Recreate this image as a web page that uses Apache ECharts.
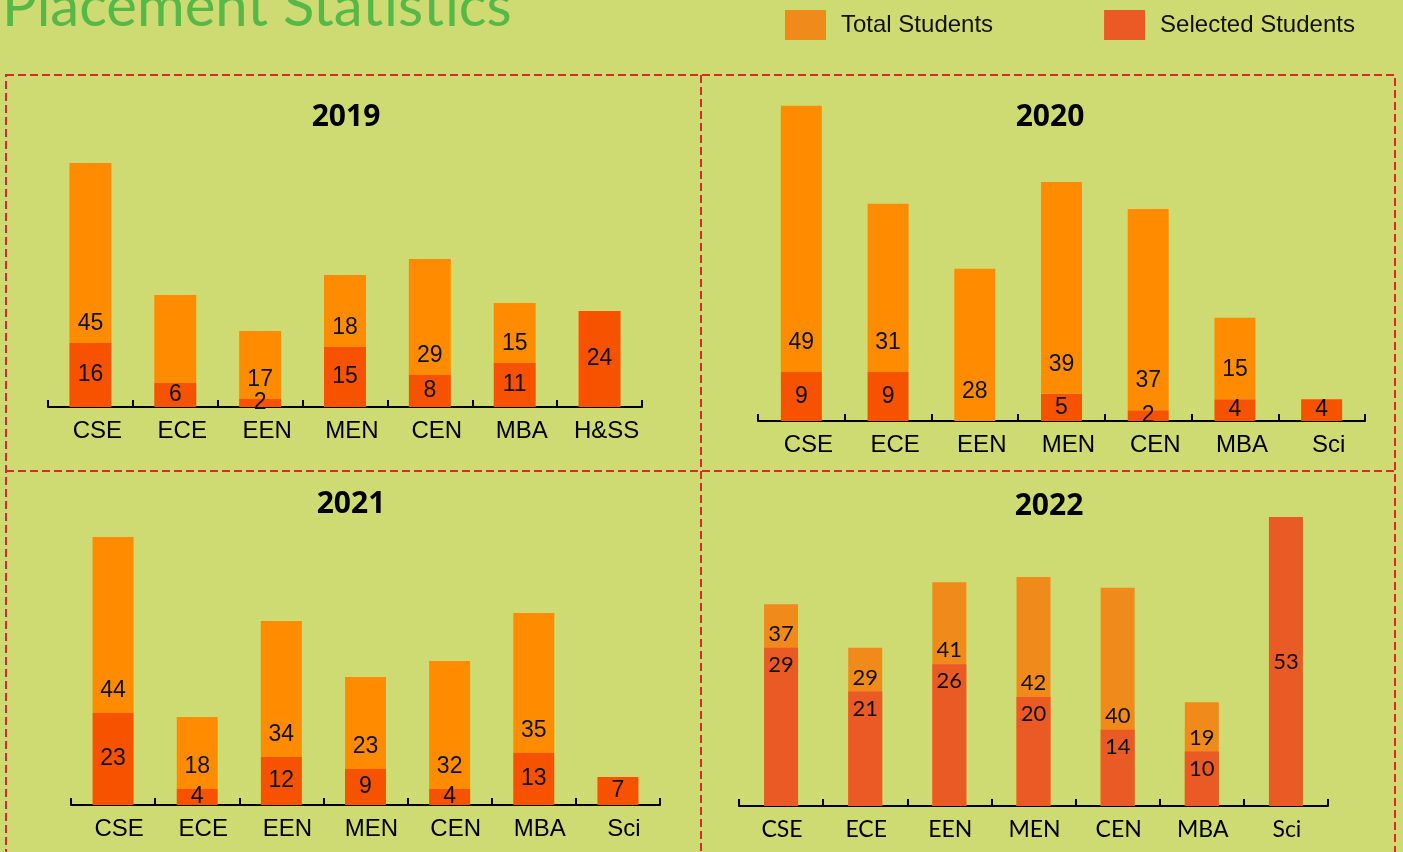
<!DOCTYPE html>
<html>
<head>
<meta charset="utf-8">
<title>Placement Statistics</title>
<script src="https://cdn.jsdelivr.net/npm/echarts@6/dist/echarts.min.js"></script>
<style>
  html, body { margin: 0; padding: 0; background: #cddb72; }
  #chart { width: 1403px; height: 852px; }
</style>
</head>
<body>
<div id="chart"></div>
<script>
// data
const cats19 = ['CSE', 'ECE', 'EEN', 'MEN', 'CEN', 'MBA', 'H&SS'];
const sel19 = [16, 6, 2, 15, 8, 11, 24];
const tot19 = [45, 22, 17, 18, 29, 15, null];
const noLabel19 = ['ECE']; // total bar drawn without a number

const cats20 = ['CSE', 'ECE', 'EEN', 'MEN', 'CEN', 'MBA', 'Sci'];
const sel20 = [9, 9, null, 5, 2, 4, 4];
const tot20 = [49, 31, 28, 39, 37, 15, null];

const cats21 = ['CSE', 'ECE', 'EEN', 'MEN', 'CEN', 'MBA', 'Sci'];
const sel21 = [23, 4, 12, 9, 4, 13, 7];
const tot21 = [44, 18, 34, 23, 32, 35, null];

const cats22 = ['CSE', 'ECE', 'EEN', 'MEN', 'CEN', 'MBA', 'Sci'];
const sel22 = [29, 21, 26, 20, 14, 10, 53];
const tot22 = [37, 29, 41, 42, 40, 19, null];

const years = ['2019', '2020', '2021', '2022'];

// colours
const TOT = '#ff8c00';
const SEL = '#f75200';
const TOT22 = '#f08a1a';
const SEL22 = '#ea5a24';
const ARIAL = '"Liberation Sans", Arial, sans-serif';
const CALI = 'Lato, "Open Sans", sans-serif';

const chart = echarts.init(document.getElementById('chart'));

// axis helpers
const xAxisFor = (gridIndex, cats, font, size, pad) => ({
  type: 'category',
  gridIndex: gridIndex,
  data: cats,
  axisLine: { show: true, lineStyle: { color: '#000', width: 2 } },
  axisTick: { show: true, inside: true, length: 7, lineStyle: { color: '#000', width: 2 } },
  axisLabel: {
    interval: 0, hideOverlap: false,
    color: '#000', fontSize: size, fontFamily: font, margin: 12, padding: [0, 0, 0, pad]
  }
});
const yAxisFor = (gridIndex, max) => ({
  type: 'value', gridIndex: gridIndex, min: 0, max: max, show: false
});

// stacked panels (2019 - 2021): selected at bottom, total on top
const stackedPair = (idx, sel, tot, cats, width, dist, hide) => [
  {
    name: 'Selected Students', type: 'bar', xAxisIndex: idx, yAxisIndex: idx,
    stack: 's' + idx, barWidth: width, data: sel,
    itemStyle: { color: SEL },
    label: { show: true, position: 'inside', color: '#111', fontSize: 23, fontFamily: ARIAL }
  },
  {
    name: 'Total Students', type: 'bar', xAxisIndex: idx, yAxisIndex: idx,
    stack: 's' + idx, barWidth: width,
    data: tot.map((v, i) => (hide.includes(cats[i]) ? { value: v, label: { show: false } } : v)),
    itemStyle: { color: TOT },
    label: { show: true, position: 'insideBottom', distance: dist, color: '#111', fontSize: 23, fontFamily: ARIAL }
  }
];

const series = [
  ...stackedPair(0, sel19, tot19, cats19, 42, 8, noLabel19),
  ...stackedPair(1, sel20, tot20, cats20, 41, 18, []),
  ...stackedPair(2, sel21, tot21, cats21, 41, 11, []),
  // 2022: overlapping bars
  {
    name: 'Total Students', type: 'bar', xAxisIndex: 3, yAxisIndex: 3,
    barWidth: 34, barGap: '-100%', data: tot22,
    itemStyle: { color: TOT22 }
  },
  {
    name: 'Selected Students', type: 'bar', xAxisIndex: 3, yAxisIndex: 3,
    barWidth: 34, barGap: '-100%',
    data: sel22.map((v, i) => (tot22[i] == null ? { value: v, label: { position: 'inside' } } : v)),
    itemStyle: { color: SEL22 },
    label: { show: true, position: 'insideTop', distance: 6, color: '#111', fontSize: 22, fontFamily: CALI }
  },
  {
    // carries the total number just above the selected bar
    name: 'totalLabel', type: 'bar', xAxisIndex: 3, yAxisIndex: 3,
    barWidth: 34, barGap: '-100%', data: sel22, silent: true,
    itemStyle: { color: 'rgba(0,0,0,0)' },
    label: {
      show: true, position: 'top', distance: 3, color: '#111', fontSize: 22, fontFamily: CALI,
      formatter: (p) => (tot22[p.dataIndex] == null ? '' : String(tot22[p.dataIndex]))
    }
  }
];

const yearPos = [[346, 117], [1050, 117], [351, 504], [1049, 506]];

const option = {
  backgroundColor: '#cddb72',
  animation: false,
  legend: {
    left: 785, top: 10, padding: 0,
    itemWidth: 41, itemHeight: 30, itemGap: 111,
    icon: 'rect',
    data: [
      { name: 'Total Students', itemStyle: { color: TOT22 } },
      { name: 'Selected Students', itemStyle: { color: SEL22 } }
    ],
    textStyle: { color: '#111', fontSize: 24, fontFamily: ARIAL, padding: [0, 0, 0, 10] }
  },
  grid: [
    { left: 48, width: 594, top: 107, height: 300 },
    { left: 758, width: 607, top: 95, height: 326 },
    { left: 71, width: 589, top: 505, height: 300 },
    { left: 739, width: 589, top: 506, height: 300 }
  ],
  xAxis: [
    xAxisFor(0, cats19, ARIAL, 24, 14),
    xAxisFor(1, cats20, ARIAL, 24, 14),
    xAxisFor(2, cats21, ARIAL, 24, 12),
    xAxisFor(3, cats22, CALI, 23, 2)
  ],
  yAxis: [yAxisFor(0, 75), yAxisFor(1, 60), yAxisFor(2, 75), yAxisFor(3, 55)],
  series: series,
  graphic: [
    {
      type: 'text', x: 2, y: 36,
      style: {
        text: 'Placement Statistics', fill: '#56b847',
        font: '58px Lato, sans-serif',
        textAlign: 'left', align: 'left', textVerticalAlign: 'bottom', verticalAlign: 'bottom'
      }
    },
    // dashed panel frame
    {
      type: 'rect', shape: { x: 6, y: 75, width: 1389, height: 820 },
      style: { fill: 'none', stroke: '#e0262a', lineWidth: 2, lineDash: [8, 4] }
    },
    {
      type: 'line', shape: { x1: 701, y1: 75, x2: 701, y2: 852 },
      style: { stroke: '#e0262a', lineWidth: 2, lineDash: [8, 4] }
    },
    {
      type: 'line', shape: { x1: 6, y1: 471, x2: 1395, y2: 471 },
      style: { stroke: '#e0262a', lineWidth: 2, lineDash: [8, 4] }
    },
    ...years.map((y, i) => ({
      type: 'text', x: yearPos[i][0], y: yearPos[i][1],
      style: {
        text: y, fill: '#000',
        font: 'bold 30px "Open Sans", sans-serif',
        textAlign: 'center', align: 'center', textVerticalAlign: 'middle', verticalAlign: 'middle'
      }
    }))
  ]
};

chart.setOption(option);
window.addEventListener('resize', () => chart.resize());
</script>
</body>
</html>
